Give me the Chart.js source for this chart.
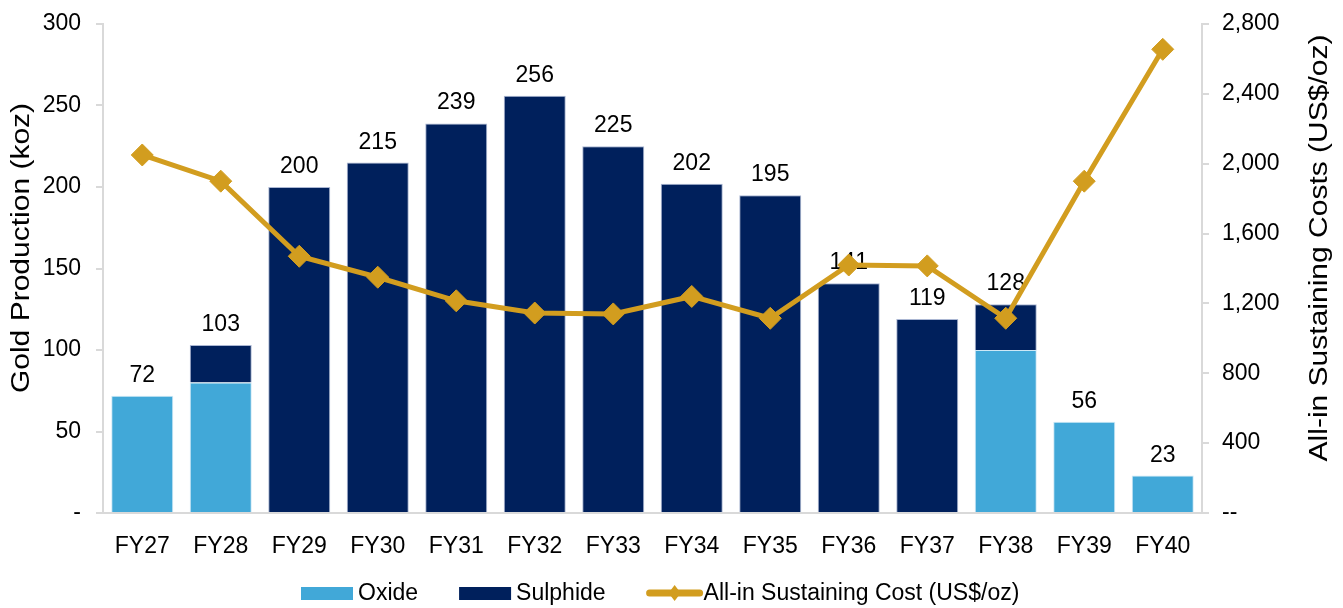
<!DOCTYPE html>
<html>
<head>
<meta charset="utf-8">
<script src="https://cdn.jsdelivr.net/npm/chart.js@4.4.1/dist/chart.umd.min.js"></script>
<style>
  html, body { margin: 0; padding: 0; background: #fff; }
  #wrap { width: 1343px; height: 608px; }
</style>
</head>
<body>
<div id="wrap"><canvas id="chart" width="1343" height="608"></canvas></div>
<script>
const years = ["FY27", "FY28", "FY29", "FY30", "FY31", "FY32", "FY33", "FY34", "FY35", "FY36", "FY37", "FY38", "FY39", "FY40"];
const oxide = [72, 80, null, null, null, null, null, null, null, null, null, 100, 56, 23];
const sulphide = [null, 23, 200, 215, 239, 256, 225, 202, 195, 141, 119, 28, null, null];
const aisc = [2050, 1900, 1470, 1350, 1215, 1145, 1140, 1240, 1115, 1420, 1415, 1115, 1900, 2655];

const OXIDE = "#41a8d8";
const SULPHIDE = "#00205c";
const GOLD = "#d29d1f";
const AXIS = "#d9d9d9";
const FONT = "'Liberation Sans', Arial, sans-serif";
const FS = 23;

// totals above each stack, drawn before the line so the markers sit on top
const totalsPlugin = {
    id: "totals",
    afterDatasetDraw(chart, args) {
        if (args.index !== 1) return;
        const ctx = chart.ctx;
        const y = chart.scales.y;
        const x = chart.scales.x;
        ctx.save();
        ctx.font = FS + "px " + FONT;
        ctx.fillStyle = "#000";
        ctx.textAlign = "center";
        ctx.textBaseline = "alphabetic";
        years.forEach((yr, i) => {
            const total = (oxide[i] || 0) + (sulphide[i] || 0);
            ctx.fillText(String(total), x.getPixelForValue(i), y.getPixelForValue(total) - 14);
        });
        ctx.restore();
    }
};

// rotated axis titles (a little wider than the tick font, like the original)
const titlesPlugin = {
    id: "axisTitles",
    afterDraw(chart) {
        const ctx = chart.ctx;
        const mid = 248;
        const put = (text, cx) => {
            ctx.save();
            ctx.translate(cx, mid);
            ctx.rotate(-Math.PI / 2);
            ctx.scale(1.2, 1);
            ctx.font = "25px " + FONT;
            ctx.fillStyle = "#000";
            ctx.textAlign = "center";
            ctx.textBaseline = "middle";
            ctx.fillText(text, 0, 0);
            ctx.restore();
        };
        put("Gold Production (koz)", 22);
        put("All-in Sustaining Costs (US$/oz)", 1320);
    }
};

// legend along the bottom
const legendPlugin = {
    id: "bottomLegend",
    afterDraw(chart) {
        const ctx = chart.ctx;
        const cy = 593;
        ctx.save();
        ctx.font = FS + "px " + FONT;
        ctx.textBaseline = "middle";
        let x = 301;
        const items = [
            { text: "Oxide", kind: "box", color: OXIDE },
            { text: "Sulphide", kind: "box", color: SULPHIDE },
            { text: "All-in Sustaining Cost (US$/oz)", kind: "line", color: GOLD }
        ];
        items.forEach(it => {
            if (it.kind === "box") {
                ctx.fillStyle = it.color;
                ctx.fillRect(x, cy - 6, 52, 13);
            } else {
                ctx.strokeStyle = it.color;
                ctx.lineWidth = 7;
                ctx.lineCap = "round";
                ctx.beginPath();
                ctx.moveTo(x + 3, cy);
                ctx.lineTo(x + 53, cy);
                ctx.stroke();
                ctx.fillStyle = it.color;
                ctx.beginPath();
                ctx.moveTo(x + 28, cy - 8);
                ctx.lineTo(x + 34, cy);
                ctx.lineTo(x + 28, cy + 8);
                ctx.lineTo(x + 22, cy);
                ctx.closePath();
                ctx.fill();
            }
            ctx.fillStyle = "#000";
            ctx.fillText(it.text, x + 57, cy + 1);
            x += 57 + ctx.measureText(it.text).width + 41;
        });
        ctx.restore();
    }
};

const config = {
    type: "bar",
    data: {
        labels: years,
        datasets: [
            {
                type: "line",
                label: "All-in Sustaining Cost (US$/oz)",
                data: aisc,
                yAxisID: "y2",
                borderColor: GOLD,
                backgroundColor: GOLD,
                borderWidth: 5,
                pointStyle: "rectRot",
                pointRadius: 11,
                pointBorderWidth: 1,
                pointBackgroundColor: GOLD,
                pointBorderColor: GOLD,
                tension: 0,
                order: 0
            },
            {
                label: "Oxide",
                data: oxide,
                backgroundColor: OXIDE,
                borderColor: "rgba(200,230,245,0.9)",
                borderWidth: 1,
                borderSkipped: "bottom",
                stack: "s",
                order: 1
            },
            {
                label: "Sulphide",
                data: sulphide,
                backgroundColor: SULPHIDE,
                borderColor: "rgba(150,165,200,0.8)",
                borderWidth: 1,
                borderSkipped: "bottom",
                stack: "s",
                order: 2
            }
        ]
    },
    options: {
        responsive: false,
        animation: false,
        maintainAspectRatio: false,
        layout: { padding: { top: 24, bottom: 51, left: 0, right: 0 } },
        datasets: { bar: { barPercentage: 0.79, categoryPercentage: 1 } },
        plugins: {
            legend: { display: false },
            tooltip: { enabled: false }
        },
        scales: {
            x: {
                stacked: true,
                afterFit: s => { s.height = 44; },
                grid: { display: false, drawTicks: false },
                border: { display: true, color: AXIS, width: 2 },
                ticks: { color: "#000", font: { family: FONT, size: FS }, padding: 20, maxRotation: 0 }
            },
            y: {
                stacked: true,
                position: "left",
                min: 0,
                max: 300,
                afterFit: s => { s.width = 103; s.paddingTop = 0; s.paddingBottom = 0; },
                grid: { drawOnChartArea: false, drawTicks: true, tickLength: 7, color: AXIS, lineWidth: 2 },
                border: { display: true, color: AXIS, width: 2 },
                ticks: {
                    stepSize: 50,
                    color: "#000",
                    font: { family: FONT, size: FS },
                    padding: 15,
                    callback: v => v === 0 ? "-" : String(v)
                }
            },
            y2: {
                position: "right",
                min: 0,
                max: 2800,
                afterFit: s => { s.width = 141; s.paddingTop = 0; s.paddingBottom = 0; },
                grid: { drawOnChartArea: false, drawTicks: true, tickLength: 7, color: AXIS, lineWidth: 2 },
                border: { display: true, color: AXIS, width: 2 },
                ticks: {
                    stepSize: 400,
                    color: "#000",
                    font: { family: FONT, size: FS },
                    padding: 13,
                    callback: v => v === 0 ? "--" : v.toLocaleString("en-US")
                }
            }
        }
    },
    plugins: [totalsPlugin, titlesPlugin, legendPlugin]
};

const myChart = new Chart("chart", config);
</script>
</body>
</html>
